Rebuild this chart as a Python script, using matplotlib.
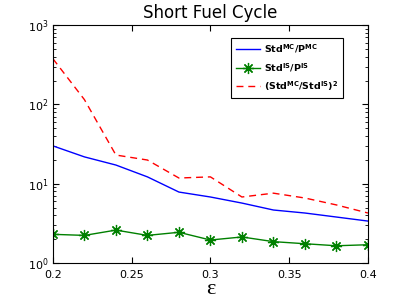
import numpy as np
import matplotlib.pyplot as plt

eps = [0.20, 0.22, 0.24, 0.26, 0.28, 0.30, 0.32, 0.34, 0.36, 0.38, 0.40]
std_mc = [30.0, 21.8, 17.2, 12.2, 7.85, 6.8, 5.7, 4.66, 4.27, 3.8, 3.38]
std_is = [2.3, 2.23, 2.6, 2.23, 2.44, 1.95, 2.13, 1.86, 1.75, 1.65, 1.7]
ratio2 = [377, 115, 23, 19.9, 11.8, 12.2, 6.8, 7.6, 6.6, 5.4, 4.27]

xticks = [0.2, 0.25, 0.3, 0.35, 0.4]
xticklabels = ['0.2', '0.25', '0.3', '0.35', '0.4']

fig = plt.figure(figsize=(4.07, 3.03), dpi=100)
ax = fig.add_axes([0.130, 0.132, 0.774, 0.785])

ax.semilogy(eps, std_mc, color='b', lw=1.0,
            label=r'$\mathbf{Std^{MC}/P^{MC}}$')
ax.semilogy(eps, std_is, color=(0, 0.5, 0), lw=1.0, marker=(8, 2, 0),
            ms=8, mew=0.9, label=r'$\mathbf{Std^{IS}/P^{IS}}$')
ax.semilogy(eps, ratio2, color='r', lw=1.0, ls=(0, (5, 3.5)),
            label=r'$\mathbf{(Std^{MC}/Std^{IS})^2}$')

ax.set_xlim(0.2, 0.4)
ax.set_ylim(1, 1000)
ax.set_xticks(xticks)
ax.set_xticklabels(xticklabels)
ax.tick_params(which='both', direction='in', top=True, right=True, labelsize=8)
ax.tick_params(which='major', length=4)
ax.tick_params(which='minor', length=2)
ax.tick_params(axis='x', pad=5)
ax.tick_params(axis='y', pad=3)

ax.set_title('Short Fuel Cycle', fontsize=12, pad=5)
ax.set_xlabel('ε', fontsize=16, family='Liberation Serif', labelpad=0)

leg = ax.legend(loc='upper right', fontsize=6.8, fancybox=False, framealpha=1,
                edgecolor='k', handlelength=2.6, handletextpad=0.4,
                borderpad=0.5, labelspacing=0.6,
                bbox_to_anchor=(343 / 407, (303 - 38) / 303),
                bbox_transform=fig.transFigure, borderaxespad=0)
leg.get_frame().set_linewidth(0.8)

fig.savefig('out.png', dpi=100)
